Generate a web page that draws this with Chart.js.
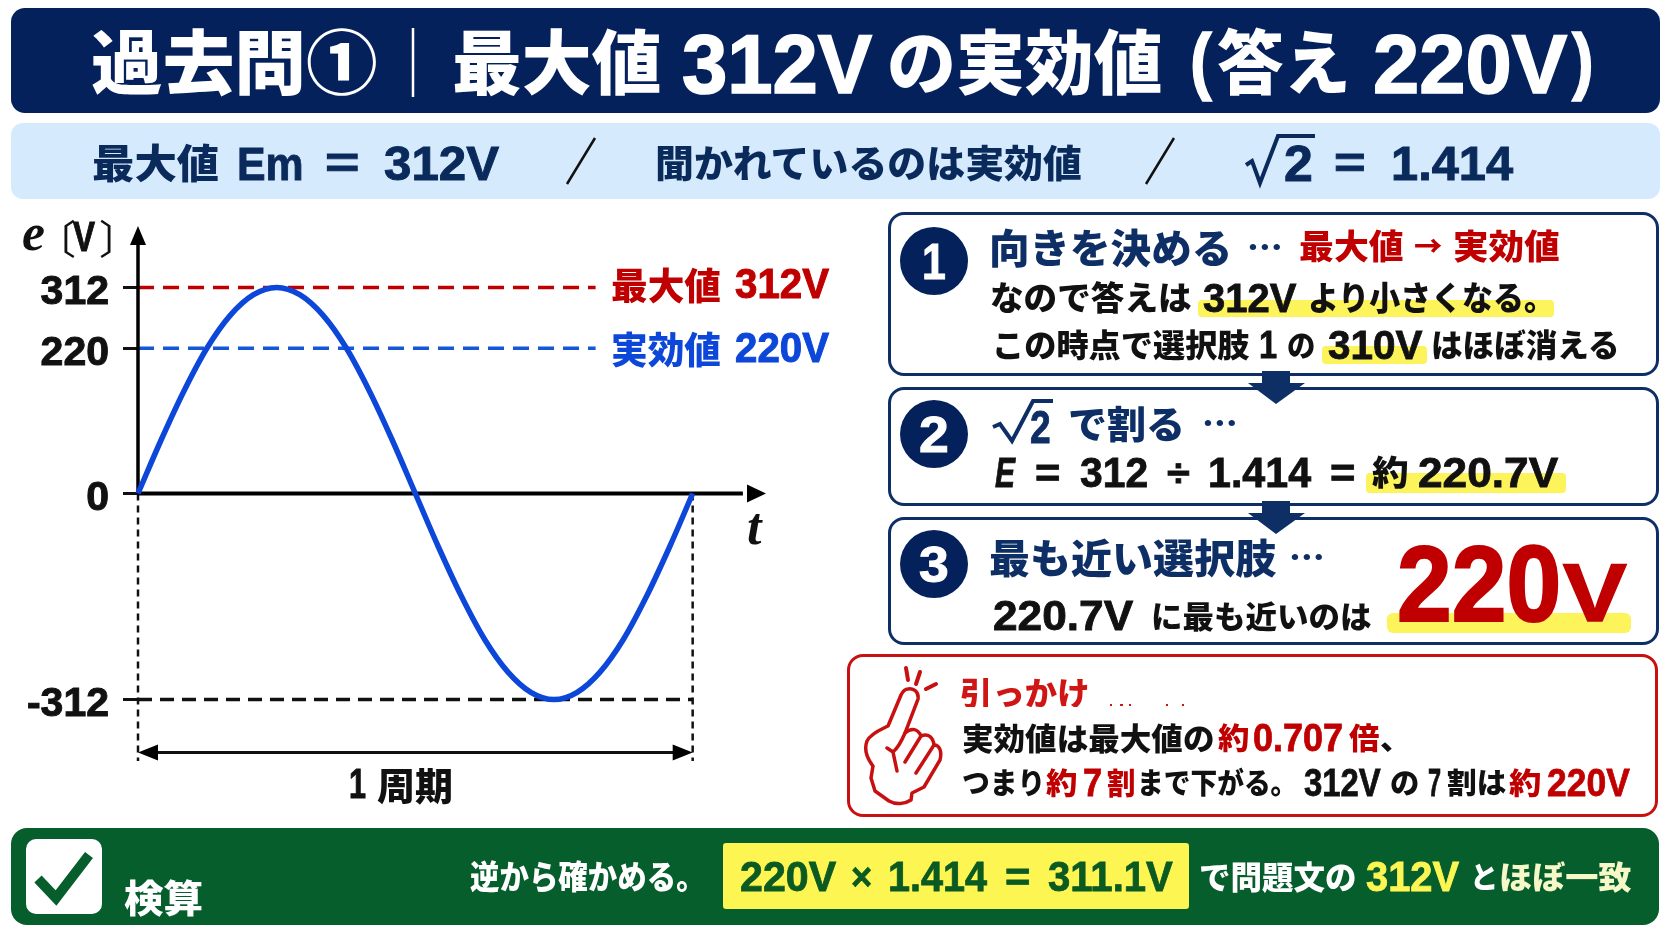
<!DOCTYPE html>
<html lang="ja">
<head>
<meta charset="utf-8">
<title>過去問①</title>
<script src="https://cdn.jsdelivr.net/npm/chart.js@4"></script>
<style>
    html, body { margin: 0; padding: 0; background: #fff; }
    #page { position: relative; width: 1671px; height: 941px; overflow: hidden; background: #fff; font-family: "Noto Sans CJK JP", sans-serif; }
    .box { position: absolute; box-sizing: border-box; }
    .t { position: absolute; white-space: nowrap; line-height: 1; font-weight: 900; transform-origin: left top; }
    #wave { position: absolute; left: 0; top: 200px; }
    #shapes { position: absolute; left: 0; top: 0; }
</style>
</head>
<body>
<div id="page">
    <div class="box" style="left:11px;top:8px;width:1649px;height:105px;background:#04215c;border-radius:14px"></div>
    <div class="box" style="left:11px;top:123px;width:1649px;height:76px;background:#d5eafc;border-radius:12px"></div>

    <canvas id="wave" width="840" height="620"></canvas>

    <div class="box" style="left:888px;top:212px;width:771px;height:164px;border:3px solid #0e2f66;border-radius:16px"></div>
    <div class="box" style="left:888px;top:387px;width:771px;height:119px;border:3px solid #0e2f66;border-radius:16px"></div>
    <div class="box" style="left:888px;top:517px;width:771px;height:128px;border:3px solid #0e2f66;border-radius:16px"></div>
    <div class="box" style="left:847px;top:654px;width:811px;height:163px;border:3px solid #c81010;border-radius:16px"></div>
    <div class="box" style="left:11px;top:828px;width:1648px;height:97px;background:#055e2c;border-radius:16px"></div>

    <div class="box" style="left:1198px;top:300px;width:356px;height:17px;background:#fdf35a;border-radius:4px"></div>
    <div class="box" style="left:1322px;top:346px;width:105px;height:18px;background:#fdf35a;border-radius:4px"></div>
    <div class="box" style="left:1366px;top:473px;width:200px;height:20px;background:#fdf35a;border-radius:4px"></div>
    <div class="box" style="left:1387px;top:613px;width:244px;height:20px;background:#fdf35a;border-radius:6px"></div>
    <div class="box" style="left:723px;top:843px;width:466px;height:66px;background:#fdf552;border-radius:3px"></div>
    <div class="box" style="left:26px;top:839px;width:76px;height:75px;background:#fff;border-radius:10px"></div>

    <svg id="shapes" width="1671" height="941" fill="none">
        <!-- header rule, slashes, root signs -->
        <path d="M413 28V97" stroke="#fff" stroke-width="2.5"/>
        <path d="M595 138L567 184M1174 138L1146 184" stroke="#111" stroke-width="2.5"/>
        <path d="M1246 165L1252 161L1260 183L1278 136H1315" stroke="#0b2a5c" stroke-width="4"/>
        <path d="M993 427L1000 424L1012 441L1033 401H1053" stroke="#0e2f66" stroke-width="4"/>
        <!-- step badges -->
        <circle cx="934" cy="261" r="34" fill="#04215c"/>
        <circle cx="934" cy="434" r="34" fill="#04215c"/>
        <circle cx="934" cy="564" r="34" fill="#04215c"/>
        <!-- arrows between steps -->
        <path d="M1262 371H1290V383H1305L1276 404L1248 383H1262Z" fill="#0e2f66"/>
        <path d="M1262 501H1290V513H1305L1276 534L1248 513H1262Z" fill="#0e2f66"/>
        <!-- pointing hand -->
        <g stroke="#c81010" stroke-width="3.5" stroke-linejoin="round" stroke-linecap="round" fill="#fff">
            <path d="M908 689C914 688 919 692 918 699L905 733C912 727 918 729 921 736C928 733 933 737 934 745C940 745 942 752 940 760L924 787L912 793L911 800C905 804 896 805 889 801L875 791L871 778L873 766C866 757 864 749 867 741C871 733 882 729 888 726L901 695C903 691 905 689 908 689Z"/>
            <path d="M905 733C902 740 898 748 893 752M921 736L905 762M934 745L916 773M893 752L887 748M893 752L897 771" fill="none"/>
            <path d="M906 668L908 680M920 672L916 684M936 684L926 689" stroke-width="4" fill="none"/>
        </g>
        <!-- check mark -->
        <path d="M38 879L56 898L89 855" stroke="#055e2c" stroke-width="10"/>
    </svg>
</div>

<script>
    // values
    var phaseDegrees = [0, 15, 30, 45, 60, 75, 90, 105, 120, 135, 150, 165, 180, 195, 210, 225, 240, 255, 270, 285, 300, 315, 330, 345, 360];
    var waveVolts = [0, 81, 156, 221, 270, 301, 312, 301, 270, 221, 156, 81, 0, -81, -156, -221, -270, -301, -312, -301, -270, -221, -156, -81, 0];
    var yTickValues = [312, 220, 0, -312];
    var peakVolts = 312;
    var rmsVolts = 220;
    var troughVolts = -312;
    var oneCycle = [0, 360];

    var yLimit = 405;
    var xLimit = 407.6;
    var cjk = '"Noto Sans CJK JP", sans-serif';
    var latin = '"Liberation Sans", "Noto Sans CJK JP", sans-serif';

    var hLine = function(y, x0, x1, color, width, dash) {
        return {
            data: [{x: x0, y: y}, {x: x1, y: y}],
            borderColor: color, borderWidth: width, borderDash: dash || [],
            pointRadius: 0, clip: false, order: 3
        };
    };
    var vLine = function(x, y0, y1, color, width, dash) {
        return {
            data: [{x: x, y: y0}, {x: x, y: y1}],
            borderColor: color, borderWidth: width, borderDash: dash || [],
            pointRadius: 0, clip: false, order: 3
        };
    };

    var triangle = function(ctx, ax, ay, bx, by, cx, cy) {
        ctx.beginPath();
        ctx.moveTo(ax, ay);
        ctx.lineTo(bx, by);
        ctx.lineTo(cx, cy);
        ctx.closePath();
        ctx.fill();
    };

    // latin bold runs a bit light next to the reference, so thicken it
    var heavyText = function(ctx, text, x, y, maxWidth, color) {
        ctx.fillStyle = color;
        ctx.strokeStyle = color;
        ctx.lineWidth = 1;
        ctx.fillText(text, x, y, maxWidth);
        ctx.strokeText(text, x, y, maxWidth);
    };

    var annotations = {
        id: 'annotations',
        afterDraw: function(chart) {
            var ctx = chart.ctx;
            var x = chart.scales.x;
            var y = chart.scales.y;
            var zeroX = x.getPixelForValue(0);
            var zeroY = y.getPixelForValue(0);
            var top = y.getPixelForValue(yLimit);
            var right = x.getPixelForValue(xLimit);
            var cycleY = y.getPixelForValue(-392);
            var cycleL = x.getPixelForValue(oneCycle[0]);
            var cycleR = x.getPixelForValue(oneCycle[1]);
            var peakY = y.getPixelForValue(peakVolts) - 1;
            var rmsY = y.getPixelForValue(rmsVolts) + 2;

            ctx.save();
            ctx.fillStyle = '#000';
            triangle(ctx, zeroX, top, zeroX - 8, top + 19, zeroX + 8, top + 19);
            triangle(ctx, right, zeroY, right - 19, zeroY - 9, right - 19, zeroY + 9);
            triangle(ctx, cycleL, cycleY, cycleL + 20, cycleY - 8, cycleL + 20, cycleY + 8);
            triangle(ctx, cycleR, cycleY, cycleR - 20, cycleY - 8, cycleR - 20, cycleY + 8);

            ctx.textBaseline = 'middle';
            ctx.textAlign = 'left';
            ctx.font = '900 37px ' + cjk;
            ctx.fillStyle = '#c00000';
            ctx.fillText('最大値', 611, peakY, 110);
            ctx.fillStyle = '#0d47d9';
            ctx.fillText('実効値', 611, rmsY, 110);
            ctx.font = '900 42px ' + latin;
            heavyText(ctx, '312V', 735, peakY, 94, '#c00000');
            heavyText(ctx, '220V', 735, rmsY, 94, '#0d47d9');

            heavyText(ctx, '1', 349, 586, 17, '#111');
            heavyText(ctx, 'V', 73, 39, 22, '#111');
            ctx.font = '900 38px ' + cjk;
            ctx.fillText('周期', 377, 586, 76);
            ctx.font = '400 40px ' + cjk;
            ctx.fillText('〔', 36, 39);
            ctx.fillText('〕', 99, 39);
            ctx.font = 'italic 700 52px "Liberation Serif", serif';
            ctx.fillText('e', 22, 37, 23);
            ctx.fillText('t', 747, 331, 18);
            ctx.restore();
        }
    };

    new Chart(document.getElementById('wave').getContext('2d'), {
        type: 'line',
        data: {
            datasets: [
                {
                    data: phaseDegrees.map(function(p, i) { return {x: p, y: waveVolts[i]}; }),
                    borderColor: '#0d47d9', borderWidth: 5.5, pointRadius: 0,
                    cubicInterpolationMode: 'monotone', clip: false, order: 1
                },
                hLine(0, 0, xLimit - 15, '#000', 4),
                vLine(0, 0, yLimit - 15, '#000', 3.5),
                hLine(peakVolts, 0, 297, '#c00000', 3.5, [16, 9]),
                hLine(rmsVolts, 0, 297, '#1557d6', 3.5, [16, 9]),
                hLine(troughVolts, 0, 360, '#111', 3.5, [14, 8]),
                vLine(0, 0, -yLimit, '#111', 2.5, [7, 5]),
                vLine(360, 0, -yLimit, '#111', 2.5, [7, 5]),
                hLine(-392, 10, 350, '#111', 3)
            ]
        },
        options: {
            responsive: false,
            animation: false,
            layout: {padding: {top: 26, bottom: 59, right: 74, left: 0}},
            plugins: {legend: {display: false}, tooltip: {enabled: false}},
            scales: {
                x: {type: 'linear', display: false, min: 0, max: xLimit},
                y: {
                    type: 'linear',
                    min: -yLimit,
                    max: yLimit,
                    afterFit: function(scale) {
                        scale.width = 138;
                        scale.paddingTop = 0;
                        scale.paddingBottom = 0;
                    },
                    afterBuildTicks: function(scale) {
                        scale.ticks = yTickValues.map(function(v) { return {value: v}; });
                    },
                    border: {display: false},
                    grid: {drawOnChartArea: false, tickLength: 15, tickWidth: 3, tickColor: '#111'},
                    ticks: {
                        color: '#111',
                        padding: 14,
                        labelOffset: 5,
                        autoSkip: false,
                        textStrokeColor: '#111',
                        textStrokeWidth: 1,
                        font: {family: latin, size: 41, weight: '900'},
                        callback: function(v) { return String(v); }
                    }
                }
            }
        },
        plugins: [annotations]
    });

    // text goes in last so it sits over the boxes and highlights
    var page = document.getElementById('page');
    var txt = function(text, left, right, cy, size, color, extra) {
        var el = document.createElement('div');
        var isLatin = /^[\x00-\x7f÷×]+$/.test(text);
        // kana and kanji have side bearings, so stretch a little past the read edges
        var pad = isLatin ? 0 : size * 0.04;
        el.className = 't';
        el.textContent = text;
        el.style.left = (left - pad) + 'px';
        el.style.top = (cy - size * (isLatin ? 0.489 : 0.56)) + 'px';
        el.style.fontSize = size + 'px';
        el.style.color = color;
        if(isLatin) {
            el.style.fontFamily = latin;
            el.style.webkitTextStroke = (size * 0.02) + 'px ' + color;
        }
        if(extra) el.style.cssText += extra;
        page.appendChild(el);
        el.style.transform = 'scaleX(' + ((right - left + pad * 2) / el.offsetWidth) + ')';
    };

    var white = '#fff', navy = '#0e2f66', ink = '#111', red = '#c00000', green = '#0b5a22', lemon = '#fdf552', pale = '#f6f8c8', sub = '#0b2a5c';

    // title
    txt('過去問①', 94, 375, 63, 70, white);
    txt('最大値', 455, 659, 63, 70, white);
    txt('312V', 682, 872, 63, 84, white);
    txt('の実効値', 890, 1160, 63, 70, white);
    txt('(', 1190, 1212, 60, 74, white);
    txt('答え', 1220, 1348, 63, 70, white);
    txt('220V', 1373, 1567, 63, 84, white);
    txt(')', 1572, 1594, 60, 74, white);

    // sub header
    txt('最大値', 94, 218, 163, 40, sub);
    txt('Em', 237, 304, 163, 46, sub);
    txt('=', 325, 360, 163, 44, sub);
    txt('312V', 384, 499, 163, 48, sub);
    txt('聞かれているのは実効値', 657, 1081, 163, 38, sub);
    txt('2', 1284, 1313, 163, 50, sub);
    txt('=', 1334, 1366, 163, 44, sub);
    txt('1.414', 1391, 1513, 163, 48, sub);

    // step 1
    txt('1', 922, 946, 261, 50, white);
    txt('向きを決める', 991, 1231, 248, 40, navy);
    txt('…', 1248, 1281, 248, 34, navy);
    txt('最大値', 1300, 1402, 247, 34, red);
    txt('→', 1415, 1441, 247, 28, red);
    txt('実効値', 1454, 1558, 247, 34, red);
    txt('なので答えは', 991, 1190, 298, 33, ink);
    txt('312V', 1203, 1296, 298, 40, ink);
    txt('より小さくなる。', 1309, 1553, 298, 33, ink);
    txt('この時点で選択肢', 993, 1248, 345, 32, ink);
    txt('1', 1259, 1277, 345, 38, ink);
    txt('の', 1288, 1314, 345, 30, ink);
    txt('310V', 1328, 1422, 345, 40, ink);
    txt('はほぼ消える', 1432, 1618, 345, 32, ink);

    // step 2
    txt('2', 919, 949, 434, 50, white);
    txt('2', 1030, 1051, 426, 46, navy);
    txt('で割る', 1070, 1184, 424, 38, navy);
    txt('…', 1203, 1236, 424, 34, navy);
    txt('E', 995, 1015, 473, 42, ink, 'font-style:italic');
    txt('=', 1035, 1060, 473, 40, ink);
    txt('312', 1080, 1148, 473, 42, ink);
    txt('÷', 1167, 1190, 473, 38, ink);
    txt('1.414', 1208, 1311, 473, 42, ink);
    txt('=', 1330, 1355, 473, 40, ink);
    txt('約', 1373, 1407, 473, 34, ink);
    txt('220.7V', 1418, 1558, 473, 42, ink);

    // step 3
    txt('3', 919, 949, 564, 50, white);
    txt('最も近い選択肢', 991, 1275, 558, 40, navy);
    txt('…', 1290, 1323, 558, 34, navy);
    txt('220.7V', 993, 1133, 616, 42, ink);
    txt('に最も近いのは', 1152, 1370, 616, 31, ink);
    txt('220', 1397, 1561, 583, 108, red);
    txt('V', 1563, 1627, 592, 82, red);

    // trap box
    txt('引っかけ', 961, 1088, 693, 32, '#d01515');
    txt('実効値は最大値の', 963, 1213, 738, 31, ink);
    txt('約', 1219, 1248, 738, 30, red);
    txt('0.707', 1253, 1343, 738, 38, red);
    txt('倍', 1350, 1378, 738, 30, red);
    txt('、', 1381, 1410, 738, 30, ink);
    txt('つまり', 963, 1044, 783, 29, ink);
    txt('約', 1047, 1076, 783, 30, red);
    txt('7', 1083, 1102, 783, 38, red);
    txt('割', 1108, 1134, 783, 30, red);
    txt('まで下がる。', 1138, 1296, 783, 29, ink);
    txt('312V', 1304, 1381, 783, 38, ink);
    txt('の', 1391, 1418, 783, 29, ink);
    txt('7', 1428, 1441, 783, 38, ink);
    txt('割は', 1448, 1505, 783, 29, ink);
    txt('約', 1510, 1540, 783, 30, red);
    txt('220V', 1547, 1630, 783, 38, red);

    // heading is cut off by a white strip in the source, with a few red specks left
    var strip = document.createElement('div');
    strip.className = 'box';
    strip.style.cssText = 'left:955px;top:707px;width:240px;height:6px;background:#fff';
    page.appendChild(strip);
    var specks = document.createElementNS('http://www.w3.org/2000/svg', 'path');
    specks.setAttribute('d', 'M1110 705h2M1120 705h3M1129 705h2M1166 705h2M1182 705h2');
    specks.setAttribute('stroke', '#d01515');
    specks.setAttribute('stroke-width', '2');
    document.getElementById('shapes').appendChild(specks);

    // check bar
    txt('検算', 126, 202, 898, 38, white);
    txt('逆から確かめる。', 471, 704, 877, 33, white);
    txt('220V', 740, 836, 877, 42, green);
    txt('×', 851, 872, 877, 38, green);
    txt('1.414', 888, 987, 877, 42, green);
    txt('=', 1005, 1030, 877, 40, green);
    txt('311.1V', 1048, 1173, 877, 42, green);
    txt('で問題文の', 1200, 1355, 877, 32, white);
    txt('312V', 1366, 1459, 877, 42, lemon);
    txt('と', 1471, 1497, 877, 30, white);
    txt('ほぼ一致', 1500, 1630, 877, 32, pale);
</script>
</body>
</html>
